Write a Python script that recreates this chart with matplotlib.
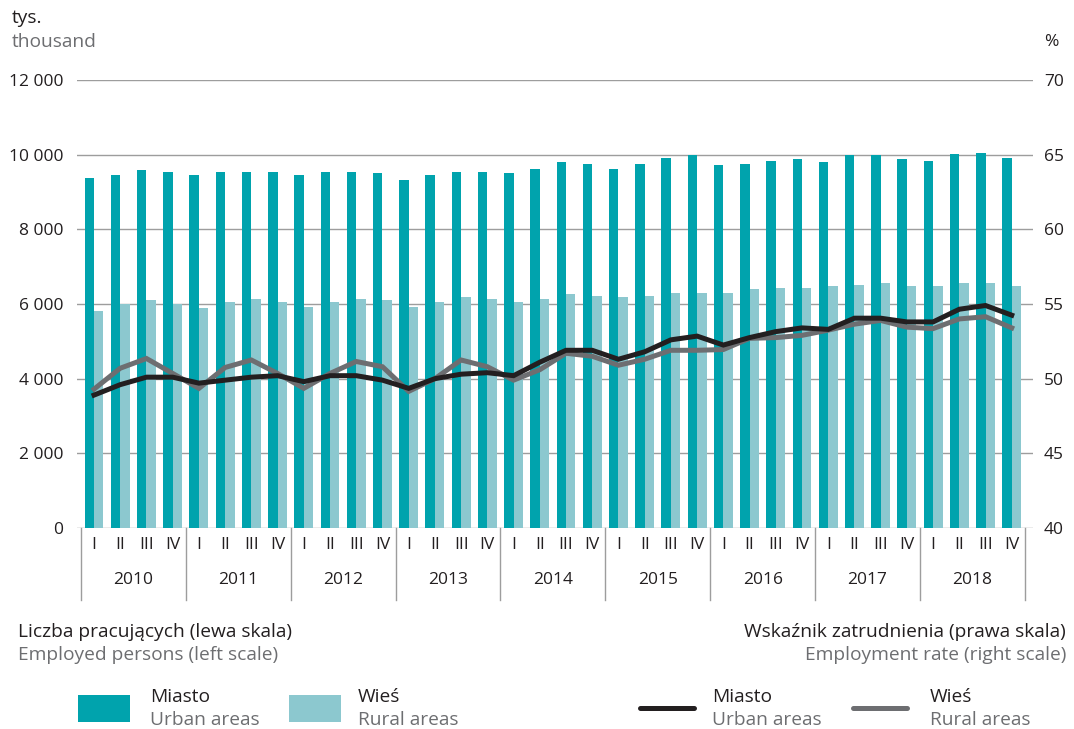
import numpy as np
import matplotlib.pyplot as plt
from matplotlib.patches import Rectangle
from matplotlib.lines import Line2D

plt.rcParams['font.family'] = ['Open Sans', 'DejaVu Sans']

years = ["2010", "2011", "2012", "2013", "2014", "2015", "2016", "2017", "2018"]
quarters = ["I", "II", "III", "IV"]

# employed persons, thousand (left scale)
urban_employed = [9375, 9455, 9590, 9535, 9455, 9535, 9535, 9535, 9455, 9535, 9535, 9510,
                  9320, 9455, 9535, 9535, 9510, 9615, 9805, 9750, 9615, 9750, 9910, 9990,
                  9725, 9750, 9830, 9885, 9805, 9990, 9990, 9885, 9830, 10020, 10045, 9910]
rural_employed = [5815, 5990, 6105, 5990, 5895, 6055, 6135, 6055, 5920, 6055, 6135, 6105,
                  5920, 6055, 6190, 6135, 6055, 6135, 6270, 6215, 6190, 6215, 6295, 6295,
                  6295, 6400, 6430, 6430, 6480, 6510, 6565, 6480, 6480, 6565, 6565, 6480]

# employment rate, % (right scale)
urban_rate = [48.9, 49.6, 50.1, 50.1, 49.7, 49.9, 50.1, 50.2, 49.8, 50.2, 50.2, 49.9,
              49.35, 50.0, 50.3, 50.4, 50.2, 51.1, 51.9, 51.9, 51.3, 51.8, 52.6, 52.85,
              52.25, 52.75, 53.15, 53.4, 53.3, 54.05, 54.05, 53.8, 53.8, 54.65, 54.9, 54.25]
rural_rate = [49.3, 50.7, 51.35, 50.35, 49.35, 50.75, 51.25, 50.35, 49.35, 50.35, 51.15, 50.8,
              49.15, 50.0, 51.25, 50.8, 49.9, 50.6, 51.7, 51.5, 50.9, 51.3, 51.9, 51.9,
              51.95, 52.7, 52.75, 52.9, 53.25, 53.65, 53.9, 53.45, 53.35, 54.0, 54.15, 53.4]

TEAL = "#00a3ad"
LIGHT = "#8cc8cf"
BLACK = "#231f20"
GREY = "#6d6e71"
GRID = "#9d9d9d"

W, H = 1074, 729
fig = plt.figure(figsize=(W / 100, H / 100), dpi=100)
ax = fig.add_axes([77 / W, 201 / H, 956 / W, 448 / H])

x = np.arange(len(urban_employed)) + 0.5
bw = 0.36
ax.bar(x - bw / 2, urban_employed, width=bw, color=TEAL, zorder=2)
ax.bar(x + bw / 2, rural_employed, width=bw, color=LIGHT, zorder=2)

ax.set_xlim(-0.15, 36.31)
ax.set_ylim(0, 12000)
ax.set_yticks(range(0, 12001, 2000))
ax.set_yticklabels([f"{v:,}".replace(",", " ") for v in range(0, 12001, 2000)])
ax.yaxis.grid(True, color=GRID, lw=1)
ax.set_axisbelow(True)
ax.set_xticks([])
for s in ax.spines.values():
    s.set_visible(False)
ax.tick_params(axis='y', length=0, pad=10, labelsize=12.5, labelcolor=BLACK)

# category box below the axis
for b in range(0, 37, 4):
    ax.plot([b, b], [0, -1930], color=GRID, lw=1, clip_on=False)
for i in range(36):
    ax.text(i + 0.5, -460, quarters[i % 4], ha='center', va='center',
            fontsize=12.5, color=BLACK)
for j, yr in enumerate(years):
    ax.text(j * 4 + 2, -1390, yr, ha='center', va='center', fontsize=12.5, color=BLACK)

ax2 = ax.twinx()
ax2.plot(x, urban_rate, color=BLACK, lw=3.6, solid_joinstyle='miter', zorder=4)
ax2.plot(x, rural_rate, color=GREY, lw=3.6, solid_joinstyle='miter', zorder=3)
ax2.set_ylim(40, 70)
ax2.set_yticks(range(40, 71, 5))
for s in ax2.spines.values():
    s.set_visible(False)
ax2.tick_params(axis='y', length=0, pad=8, labelsize=12.5, labelcolor=BLACK)


def ftext(px, py, s, color=BLACK, ha='left', size=13.8):
    fig.text(px / W, 1 - py / H, s, ha=ha, va='center', color=color, fontsize=size)


ftext(12, 18, "tys.")
ftext(12, 42, "thousand", GREY)
ftext(1044, 42, "%", size=12.5)

ftext(18, 632, "Liczba pracujących (lewa skala)")
ftext(18, 655, "Employed persons (left scale)", GREY)
ftext(1066, 632, "Wskaźnik zatrudnienia (prawa skala)", ha='right')
ftext(1066, 655, "Employment rate (right scale)", GREY, ha='right')

for px, col in [(78, TEAL), (289, LIGHT)]:
    fig.add_artist(Rectangle((px / W, 1 - 722 / H), 52 / W, 27 / H,
                             transform=fig.transFigure, color=col, lw=0))
for px, col in [(640, BLACK), (853, GREY)]:
    fig.add_artist(Line2D([px / W, (px + 54) / W], [1 - 708 / H] * 2,
                          transform=fig.transFigure, color=col, lw=3.6,
                          solid_capstyle='round'))

for px, pl, en in [(150, "Miasto", "Urban areas"), (358, "Wieś", "Rural areas"),
                   (712, "Miasto", "Urban areas"), (930, "Wieś", "Rural areas")]:
    ftext(px, 697, pl)
    ftext(px, 720, en, GREY)

fig.savefig("out.png", dpi=100)
